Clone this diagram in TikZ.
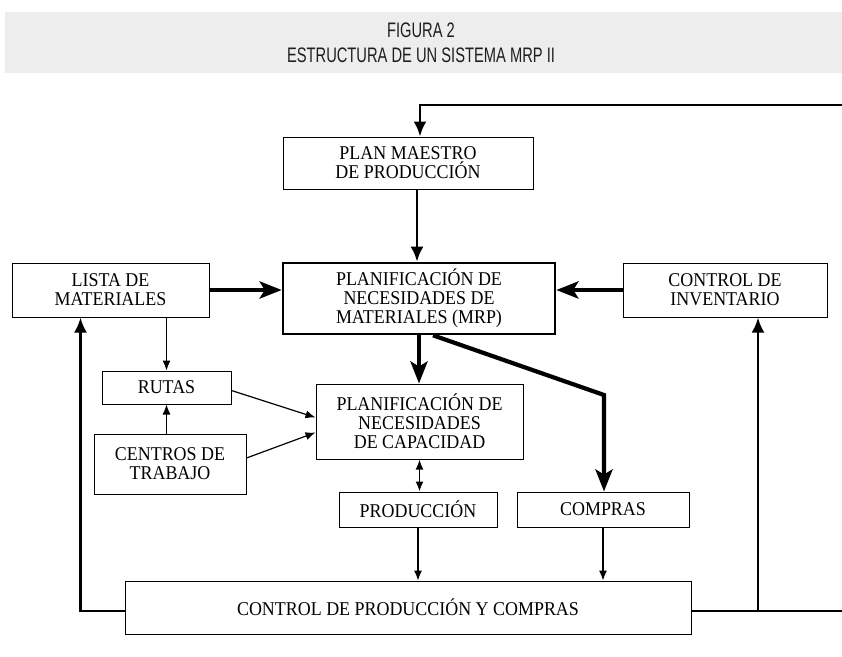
\documentclass[tikz,border=0pt]{standalone}
\usepackage{fontspec}
\setmainfont[FakeStretch=0.92]{Liberation Serif}
\newfontfamily\titlefont[FakeStretch=0.70]{Liberation Sans}
\usetikzlibrary{arrows.meta}
\usetikzlibrary{positioning}
\tikzset{>=Latex}
\definecolor{bandgray}{RGB}{237,237,237}
\definecolor{titleink}{RGB}{30,30,30}

\tikzset{
  block/.style={draw, line width=1pt, align=center, inner sep=0pt,
    font=\fontsize{19.5}{19}\selectfont},
  mainblock/.style={block, line width=2.6pt},
  heavy/.style={line width=4.2pt, -{Stealth[length=22pt,width=17pt,inset=5pt]}},
  feedback/.style={line width=2.8pt},
  fbtip/.style={-{Latex[length=15pt,width=13pt]}},
  flow/.style={line width=1.2pt, -{Latex[length=10pt,width=8pt]}},
}

\begin{document}
\begin{tikzpicture}[x=1pt, y=-1pt]
        \useasboundingbox (0,0) rectangle (842,656);
        % title band
        \fill[bandgray] (5,12) rectangle (842,73);
        \node [font=\titlefont\fontsize{21}{25}\selectfont, text=titleink, align=center] (title) at (421,42.5) {FIGURA 2\\ESTRUCTURA DE UN SISTEMA MRP II};

        % blocks
        \node [block, minimum width=250pt, minimum height=52pt] (plan) at (408,163) {PLAN MAESTRO\\DE PRODUCCIÓN};
        \node [mainblock, minimum width=272pt, minimum height=71pt] (mrp) at (419,298.5) {PLANIFICACIÓN DE\\NECESIDADES DE\\MATERIALES (MRP)};
        \node [block, minimum width=197pt, minimum height=54pt] (lista) at (110.5,290) {LISTA DE\\MATERIALES};
        \node [block, minimum width=204pt, minimum height=54pt] (inv) at (725,290) {CONTROL DE\\INVENTARIO};
        \node [block, minimum width=129pt, minimum height=33pt] (rutas) at (166.5,387.5) {RUTAS};
        \node [block, minimum width=152pt, minimum height=60pt, below=29pt of rutas, xshift=3.5pt] (centros) {CENTROS DE\\TRABAJO};
        \node [block, minimum width=207pt, minimum height=75pt] (cap) at (419.5,421.5) {PLANIFICACIÓN DE\\NECESIDADES\\DE CAPACIDAD};
        \node [block, minimum width=158pt, minimum height=35pt] (prod) at (418,509.5) {PRODUCCIÓN};
        \node [block, minimum width=172pt, minimum height=35pt, right=19pt of prod] (compras) {COMPRAS};
        \node [block, minimum width=566pt, minimum height=53pt] (ctrl) at (408,607.5) {CONTROL DE PRODUCCIÓN Y COMPRAS};

        % feedback loops
        \coordinate (topR) at (842,105);
        \coordinate (botR) at (842,611);
        \coordinate (tap) at ([xshift=33pt]inv.south |- botR);
        \coordinate (bend) at (604,395);
        \draw [feedback, fbtip] (topR) -| ([xshift=12pt]plan.north);
        \draw [feedback] (ctrl.east |- botR) -- (botR);
        \draw [feedback, fbtip] (tap) -- (tap |- inv.south);
        \draw [feedback, fbtip] (ctrl.west |- botR) -| ([xshift=-30pt]lista.south);
        \draw [feedback, fbtip] ([xshift=9pt]plan.south) -- ([xshift=9pt]plan.south |- mrp.north);

        % MRP
        \draw [heavy] (lista.east) -- (lista.east -| mrp.west);
        \draw [heavy] (inv.west) -- (inv.west -| mrp.east);
        \draw [heavy] (mrp.south) -- (mrp.south |- cap.north);
        \draw [heavy] ([xshift=14pt]mrp.south) -- (bend) -- (bend |- compras.north);

        % capacity
        \draw [flow] (lista.south -| rutas.north) -- (rutas.north);
        \draw [flow] (centros.north -| rutas.south) -- (rutas.south);
        \draw [flow] ([yshift=-3pt]rutas.east) -- ([yshift=4pt]cap.west);
        \draw [flow] ([yshift=6pt]centros.east) -- ([yshift=-11pt]cap.west);
        \draw [line width=1.6pt, {Latex[length=10pt,width=8pt]}-{Latex[length=10pt,width=8pt]}] (cap.south) -- (cap.south |- prod.north);
        \draw [flow] (prod.south) -- (prod.south |- ctrl.north);
        \draw [flow] (compras.south) -- (compras.south |- ctrl.north);
    \end{tikzpicture}
\end{document}
